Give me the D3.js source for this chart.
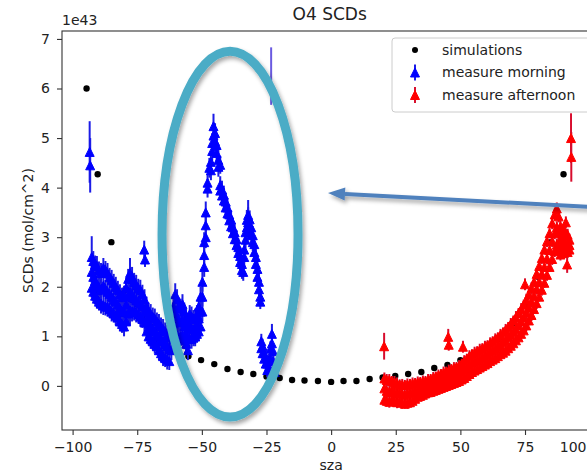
<!DOCTYPE html>
<html>
<head>
<meta charset="utf-8">
<script src="https://cdn.jsdelivr.net/npm/d3@7"></script>
<style>
body { margin: 0; background: #fff; }
svg { display: block; font-family: "DejaVu Sans", sans-serif; }
</style>
</head>
<body>
<div id="chart"></div>
<script>
// values are in units of 1e43 (mol/cm^2)

// simulations
var simSza = [-94.6, -90.3, -85, -80.2, -75, -70, -65, -59.8, -55.2, -50.3, -45.2, -40.1, -35, -30.1, -25, -19.9,
    -15.1, -10.3, -5.1, 0, 4.8, 9.8, 14.9, 19.9, 24.8, 29.8, 34.9, 39.9, 45, 50, 55, 60, 65, 70, 75, 80, 85, 89.9];
var simVal = [6.0, 4.27, 2.9, 1.92, 1.6, 1.2, 0.95, 0.79, 0.6, 0.52, 0.44, 0.34, 0.28, 0.24, 0.19, 0.16,
    0.12, 0.11, 0.1, 0.08, 0.1, 0.1, 0.14, 0.17, 0.2, 0.24, 0.28, 0.36, 0.42, 0.52, 0.62, 0.76, 0.95, 1.25, 1.62, 2.2, 2.9, 4.27];

// morning measurements, rows of [sza, error, values...]
var morningRows = [
    [-93.4, 0.62, 4.72], [-93.2, 0.55, 4.45],
    [-92.6, 0.42, 2.6], [-92.6, 0.2, 2.3, 1.98], [-92.0, 0.2, 2.52, 2.2, 1.9], [-91.3, 0.18, 2.45, 2.12, 1.82],
    [-90.6, 0.2, 2.42, 2.05, 1.76], [-89.8, 0.18, 2.33, 2.0, 1.7], [-89.0, 0.2, 2.28, 1.94, 1.66],
    [-88.1, 0.2, 2.38, 2.02, 1.63], [-87.3, 0.18, 2.34, 1.96, 1.6], [-86.5, 0.2, 2.28, 1.9, 1.6],
    [-85.7, 0.18, 2.2, 1.86, 1.55], [-84.9, 0.2, 2.14, 1.8, 1.5], [-84.1, 0.18, 2.08, 1.74, 1.46],
    [-83.3, 0.2, 2.0, 1.7, 1.42], [-82.5, 0.18, 1.94, 1.64, 1.38], [-81.7, 0.2, 1.85, 1.56, 1.3],
    [-80.9, 0.18, 1.8, 1.5, 1.25], [-80.1, 0.2, 1.82, 1.5, 1.2], [-79.3, 0.2, 1.98, 1.64, 1.3],
    [-78.5, 0.2, 2.16, 1.8, 1.46], [-77.8, 0.3, 2.28, 1.9, 1.52], [-77.0, 0.2, 2.2, 1.84, 1.5],
    [-76.2, 0.18, 2.1, 1.78, 1.5], [-75.4, 0.2, 2.04, 1.74, 1.48], [-74.6, 0.18, 1.98, 1.7, 1.45],
    [-73.8, 0.2, 1.94, 1.66, 1.4], [-73.0, 0.18, 1.86, 1.6, 1.35], [-72.3, 0.18, 2.75], [-72.0, 0.15, 2.55],
    [-72.2, 0.2, 1.75, 1.5, 1.28], [-71.4, 0.2, 1.6, 1.35, 1.1], [-70.6, 0.18, 1.5, 1.26, 1.0],
    [-69.8, 0.2, 1.45, 1.2, 0.95], [-69.0, 0.18, 1.4, 1.14, 0.9], [-68.2, 0.2, 1.36, 1.1, 0.85],
    [-67.4, 0.18, 1.3, 1.04, 0.8], [-66.6, 0.2, 1.25, 1.0, 0.72], [-65.8, 0.18, 1.2, 0.94, 0.66],
    [-65.0, 0.2, 1.15, 0.9, 0.6], [-64.2, 0.18, 1.1, 0.84, 0.56], [-63.4, 0.2, 1.02, 0.8, 0.53],
    [-62.6, 0.18, 0.98, 0.75, 0.5], [-61.8, 0.2, 1.3, 1.0, 0.72], [-61.0, 0.2, 1.6, 1.26, 0.95],
    [-60.3, 0.22, 1.85, 1.45, 1.05], [-59.6, 0.2, 1.75, 1.4, 1.02], [-58.9, 0.18, 1.6, 1.3, 0.98],
    [-58.2, 0.2, 1.56, 1.28, 1.0], [-57.5, 0.2, 1.65, 1.34, 1.02], [-56.8, 0.18, 1.5, 1.2, 0.92],
    [-56.1, 0.2, 1.36, 1.06, 0.85], [-55.4, 0.2, 1.26, 0.96, 0.72], [-54.7, 0.18, 1.45, 1.2, 0.95],
    [-54.0, 0.2, 1.4, 1.16, 0.95], [-53.3, 0.18, 1.35, 1.14, 0.98], [-52.6, 0.2, 1.36, 1.16, 1.0],
    [-51.9, 0.18, 1.45, 1.24, 1.05], [-51.2, 0.2, 1.6, 1.36, 1.1], [-50.5, 0.2, 1.8, 1.5, 1.2],
    [-49.8, 0.2, 2.1, 1.8, 1.5], [-49.1, 0.2, 2.9, 2.64, 2.4], [-48.5, 0.22, 3.5, 3.24, 3.0],
    [-47.8, 0.18, 4.1, 3.98], [-47.1, 0.2, 4.4], [-46.5, 0.2, 4.52, 4.35], [-46.0, 0.2, 4.9, 4.74],
    [-45.5, 0.25, 5.24, 5.05], [-44.9, 0.2, 5.1, 4.94], [-44.3, 0.18, 4.86, 4.7], [-43.6, 0.2, 4.56, 4.42],
    [-42.9, 0.18, 4.46], [-42.9, 0.18, 4.05, 3.94], [-42.2, 0.18, 3.96, 3.84], [-41.5, 0.18, 3.86, 3.74],
    [-40.8, 0.18, 3.72, 3.6], [-40.1, 0.18, 3.6, 3.48], [-39.4, 0.18, 3.46, 3.34], [-38.7, 0.18, 3.36, 3.22],
    [-38.0, 0.18, 3.2, 3.08], [-37.3, 0.18, 3.1, 2.96], [-36.6, 0.18, 2.96, 2.84], [-35.9, 0.18, 2.8, 2.68],
    [-35.2, 0.18, 2.62, 2.5], [-34.5, 0.18, 2.46, 2.34], [-34.0, 0.18, 2.3],
    [-33.6, 0.18, 2.75, 2.6], [-33.1, 0.18, 3.1, 2.95], [-32.6, 0.2, 3.35, 3.2], [-32.1, 0.3, 3.45, 3.3],
    [-31.5, 0.18, 3.36, 3.2], [-30.9, 0.18, 3.2, 3.05], [-30.3, 0.18, 3.04, 2.9], [-29.7, 0.18, 2.86, 2.7],
    [-29.1, 0.18, 2.6, 2.46], [-28.5, 0.18, 2.36, 2.2], [-27.9, 0.18, 2.1, 1.95], [-27.4, 0.15, 1.8, 1.7],
    [-27.0, 0.15, 0.9, 0.76], [-26.5, 0.15, 0.8, 0.66], [-25.9, 0.15, 0.66, 0.55], [-25.3, 0.15, 0.56, 0.45],
    [-24.7, 0.15, 0.45, 0.32], [-24.1, 0.15, 0.5, 0.36], [-23.5, 0.15, 0.75, 0.55], [-22.9, 0.2, 1.05, 0.86],
    [-22.4, 0.15, 0.7, 0.5], [-21.8, 0.12, 0.4, 0.28]
];
// morning error bar whose marker is not shown
var morningBarOnly = [[-23.2, 0.58, 6.25]];

// afternoon measurements, rows of [sza, error, values...]
var afternoonRows = [
    [20.5, 0.27, 0.8], [20.6, 0.12, 0.15, -0.05, -0.28], [21.5, 0.12, 0.12, -0.1, -0.3], [22.5, 0.12, 0.12, -0.12, -0.32],
    [23.5, 0.1, 0.1, -0.08, -0.28], [24.5, 0.12, 0.08, -0.12, -0.3], [25.5, 0.12, 0.05, -0.15, -0.33],
    [26.5, 0.1, 0.03, -0.14, -0.32], [27.5, 0.12, 0.02, -0.16, -0.34], [28.5, 0.1, 0.02, -0.18, -0.36],
    [29.5, 0.12, 0.03, -0.15, -0.34], [30.5, 0.1, 0.04, -0.14, -0.33], [31.5, 0.12, 0.05, -0.12, -0.3],
    [32.5, 0.1, 0.06, -0.1, -0.26], [33.5, 0.12, 0.07, -0.08, -0.22], [34.5, 0.1, 0.08, -0.06, -0.2],
    [35.5, 0.12, 0.09, -0.05, -0.18], [36.5, 0.1, 0.1, -0.03, -0.15], [37.5, 0.12, 0.12, -0.01, -0.13],
    [38.5, 0.1, 0.14, 0.01, -0.12], [39.5, 0.12, 0.16, 0.03, -0.1], [40.5, 0.1, 0.19, 0.05, -0.08],
    [41.5, 0.12, 0.21, 0.08, -0.06], [42.5, 0.1, 0.24, 0.1, -0.04], [43.5, 0.12, 0.27, 0.12, -0.02],
    [44.5, 0.1, 0.29, 0.15, 0.0], [45.3, 0.16, 0.99], [45.5, 0.12, 0.83], [45.5, 0.12, 0.31, 0.17, 0.02],
    [46.5, 0.1, 0.34, 0.19, 0.04], [47.5, 0.12, 0.36, 0.21, 0.06], [48.5, 0.1, 0.38, 0.23, 0.08],
    [49.5, 0.12, 0.4, 0.26, 0.1], [50.5, 0.1, 0.45, 0.29, 0.13], [51.0, 0.12, 0.79], [51.5, 0.12, 0.5, 0.33, 0.16],
    [52.5, 0.1, 0.55, 0.37, 0.2], [53.5, 0.12, 0.6, 0.42, 0.24], [54.5, 0.1, 0.64, 0.46, 0.28],
    [55.5, 0.12, 0.67, 0.49, 0.31], [56.5, 0.1, 0.7, 0.52, 0.34], [57.5, 0.12, 0.73, 0.55, 0.37],
    [58.5, 0.1, 0.76, 0.58, 0.4], [59.5, 0.12, 0.79, 0.61, 0.43], [60.5, 0.1, 0.82, 0.64, 0.46],
    [61.5, 0.12, 0.86, 0.68, 0.5], [62.5, 0.1, 0.9, 0.72, 0.53], [63.5, 0.12, 0.94, 0.75, 0.56],
    [64.5, 0.1, 0.98, 0.79, 0.6], [65.5, 0.12, 1.03, 0.83, 0.64], [66.5, 0.1, 1.08, 0.88, 0.67],
    [67.5, 0.12, 1.13, 0.92, 0.71], [68.5, 0.1, 1.19, 0.98, 0.76], [69.5, 0.12, 1.25, 1.03, 0.81],
    [70.5, 0.1, 1.32, 1.09, 0.86], [71.5, 0.12, 1.39, 1.15, 0.92], [72.5, 0.1, 1.47, 1.22, 0.98],
    [73.5, 0.12, 1.55, 1.3, 1.05], [74.5, 0.1, 1.64, 1.38, 1.12], [75.0, 0.12, 2.05],
    [75.5, 0.12, 1.74, 1.48, 1.22], [76.5, 0.1, 1.85, 1.58, 1.32], [77.5, 0.12, 1.97, 1.7, 1.43],
    [78.5, 0.1, 2.1, 1.82, 1.55], [79.5, 0.12, 2.26, 1.96, 1.67], [80.5, 0.1, 2.42, 2.1, 1.8],
    [81.5, 0.12, 2.58, 2.26, 1.94], [82.5, 0.1, 2.75, 2.4, 2.08], [83.5, 0.12, 2.92, 2.57, 2.24],
    [84.5, 0.1, 3.08, 2.74, 2.4], [85.5, 0.12, 3.28, 2.92, 2.56], [86.5, 0.12, 3.46, 3.08, 2.72],
    [87.3, 0.12, 3.58, 3.2, 2.85], [88.0, 0.12, 3.42, 3.1, 2.75], [88.7, 0.12, 3.22, 2.95, 2.65],
    [89.4, 0.12, 3.05, 2.86, 2.68], [90.1, 0.12, 3.15, 2.95, 2.78], [90.8, 0.12, 3.3, 3.05, 2.82],
    [91.3, 0.17, 2.45], [91.5, 0.12, 3.05, 2.88, 2.7], [92.2, 0.12, 2.95, 2.84, 2.75],
    [92.8, 0.5, 5.0], [92.9, 0.5, 4.62]
];

var xTicks = [-100, -75, -50, -25, 0, 25, 50, 75, 100];
var yTicks = [0, 1, 2, 3, 4, 5, 6, 7];
var legendLabels = ["simulations", "measure morning", "measure afternoon"];

// annotation added on top of the plot (data coordinates)
var ellipseNote = {sza: -39.1, val: 3.06, rSza: 26.3, rVal: 3.69};
var arrowNote = {fromSza: 104, fromVal: 3.6, toSza: -1.2, toVal: 3.89};

function flatten(rows) {
    var out = [];
    rows.forEach(function (r) {
        r.slice(2).forEach(function (v) {
            out.push({sza: r[0], err: r[1], val: v});
        });
    });
    return out;
}
var morning = flatten(morningRows);
var afternoon = flatten(afternoonRows);
var sims = simSza.map(function (s, i) { return {sza: s, val: simVal[i]}; });

var width = 587, height = 473;
var plot = {left: 62, top: 31, right: 597.4, bottom: 430};

var x = d3.scaleLinear().domain([-104.1, 103]).range([plot.left, plot.right]);
var y = d3.scaleLinear().domain([-0.89, 7.16]).range([plot.bottom, plot.top]);

var svg = d3.select("#chart").append("svg")
    .attr("width", width)
    .attr("height", height);

var defs = svg.append("defs");
defs.append("clipPath").attr("id", "plotclip")
    .append("rect")
    .attr("x", plot.left).attr("y", plot.top)
    .attr("width", plot.right - plot.left).attr("height", plot.bottom - plot.top);
var shadow = defs.append("filter").attr("id", "shadow")
    .attr("x", "-20%").attr("y", "-20%").attr("width", "140%").attr("height", "140%");
shadow.append("feDropShadow")
    .attr("dx", 2).attr("dy", 3).attr("stdDeviation", 2)
    .attr("flood-color", "#000").attr("flood-opacity", 0.35);
// the source picture is soft, blur the marks a little
defs.append("filter").attr("id", "soft")
    .append("feGaussianBlur").attr("stdDeviation", 0.6);

var tri = "M0,-4.5L4.5,4.5L-4.5,4.5Z";

var marks = svg.append("g").attr("clip-path", "url(#plotclip)")
    .append("g").attr("filter", "url(#soft)");

// simulations
marks.selectAll(".sim")
    .data(sims)
    .enter().append("circle")
    .attr("class", "sim")
    .attr("cx", function (d) { return x(d.sza); })
    .attr("cy", function (d) { return y(d.val); })
    .attr("r", 3.2)
    .attr("fill", "#000");

function drawSeries(data, color, ecolor) {
    var g = marks.append("g");
    g.selectAll("line")
        .data(data)
        .enter().append("line")
        .attr("x1", function (d) { return x(d.sza); })
        .attr("x2", function (d) { return x(d.sza); })
        .attr("y1", function (d) { return y(d.val - d.err); })
        .attr("y2", function (d) { return y(d.val + d.err); })
        .attr("stroke", ecolor)
        .attr("stroke-width", 2);
    g.selectAll("path")
        .data(data)
        .enter().append("path")
        .attr("d", tri)
        .attr("transform", function (d) { return "translate(" + x(d.sza) + "," + y(d.val) + ")"; })
        .attr("fill", color)
        .attr("stroke", color)
        .attr("stroke-width", 1);
}

drawSeries(morning, "#0000ff", "#1a1ae6");
marks.selectAll(".baronly")
    .data(morningBarOnly)
    .enter().append("line")
    .attr("class", "baronly")
    .attr("x1", function (d) { return x(d[0]); })
    .attr("x2", function (d) { return x(d[0]); })
    .attr("y1", function (d) { return y(d[2] - d[1]); })
    .attr("y2", function (d) { return y(d[2] + d[1]); })
    .attr("stroke", "#6a5ae0")
    .attr("stroke-width", 2);
drawSeries(afternoon, "#ff0000", "#d8102e");

// axes
var axisColor = "#333";
var xAxis = svg.append("g")
    .attr("transform", "translate(0," + plot.bottom + ")")
    .call(d3.axisBottom(x).tickValues(xTicks).tickSize(5).tickPadding(7));
var yAxis = svg.append("g")
    .attr("transform", "translate(" + plot.left + ",0)")
    .call(d3.axisLeft(y).tickValues(yTicks).tickSize(5).tickPadding(7).tickFormat(d3.format("d")));
[xAxis, yAxis].forEach(function (a) {
    a.select(".domain").remove();
    a.selectAll("line").attr("stroke", axisColor).attr("stroke-width", 1.1);
    a.selectAll("text").attr("fill", "#222").style("font-size", "14px").style("font-family", "DejaVu Sans, sans-serif");
});
// the last x label would run off the right edge: keep it inside the picture
xAxis.selectAll(".tick").filter(function (d) { return d === 100; })
    .select("text").attr("text-anchor", "end").attr("x", width - 1 - x(100));

svg.append("rect")
    .attr("x", plot.left).attr("y", plot.top)
    .attr("width", plot.right - plot.left).attr("height", plot.bottom - plot.top)
    .attr("fill", "none")
    .attr("stroke", axisColor)
    .attr("stroke-width", 1.1);

// labels
svg.append("text")
    .attr("x", (plot.left + plot.right) / 2).attr("y", 20)
    .attr("text-anchor", "middle")
    .style("font-size", "17px").attr("fill", "#222")
    .text("O4 SCDs");
svg.append("text")
    .attr("x", plot.left).attr("y", 25)
    .style("font-size", "14px").attr("fill", "#222")
    .text("1e43");
svg.append("text")
    .attr("transform", "translate(33," + (plot.top + plot.bottom) / 2 + ") rotate(-90)")
    .attr("text-anchor", "middle")
    .style("font-size", "14px").attr("fill", "#222")
    .text("SCDs (mol/cm^2)");
svg.append("text")
    .attr("x", x(0)).attr("y", 469.5)
    .attr("text-anchor", "middle")
    .style("font-size", "14px").attr("fill", "#222")
    .text("sza");

// legend
var legend = svg.append("g").attr("transform", "translate(392,38)");
legend.append("rect")
    .attr("width", 220).attr("height", 74).attr("rx", 3)
    .attr("fill", "#fff").attr("fill-opacity", 0.8)
    .attr("stroke", "#ccc");
var rows = legend.selectAll(".entry")
    .data(legendLabels)
    .enter().append("g")
    .attr("class", "entry")
    .attr("transform", function (d, i) { return "translate(0," + (12 + i * 22.5) + ")"; });
rows.append("text")
    .attr("x", 50).attr("dy", "0.35em")
    .style("font-size", "14px").attr("fill", "#222")
    .text(function (d) { return d; });
rows.each(function (d, i) {
    var r = d3.select(this);
    if (i === 0) {
        r.append("circle").attr("cx", 23).attr("r", 3).attr("fill", "#000");
    } else {
        var c = i === 1 ? "#0000ff" : "#ff0000";
        var ec = i === 1 ? "#1a1ae6" : "#d8102e";
        r.append("line").attr("x1", 23).attr("x2", 23).attr("y1", -8).attr("y2", 8)
            .attr("stroke", ec).attr("stroke-width", 2);
        r.append("path").attr("d", tri).attr("transform", "translate(23,0)")
            .attr("fill", c).attr("stroke", c);
    }
});

// annotation: ellipse and arrow
var note = svg.append("g").attr("filter", "url(#shadow)");
note.append("ellipse")
    .attr("cx", x(ellipseNote.sza))
    .attr("cy", y(ellipseNote.val))
    .attr("rx", x(ellipseNote.sza + ellipseNote.rSza) - x(ellipseNote.sza))
    .attr("ry", y(ellipseNote.val - ellipseNote.rVal) - y(ellipseNote.val))
    .attr("fill", "none")
    .attr("stroke", "#4bacc6")
    .attr("stroke-width", 9);

var ax0 = x(arrowNote.fromSza), ay0 = y(arrowNote.fromVal);
var ax1 = x(arrowNote.toSza), ay1 = y(arrowNote.toVal);
var ang = Math.atan2(ay1 - ay0, ax1 - ax0);
var headLen = 17, headHalf = 6.5;
var bx = ax1 - headLen * Math.cos(ang), by = ay1 - headLen * Math.sin(ang);
note.append("line")
    .attr("x1", ax0).attr("y1", ay0).attr("x2", bx).attr("y2", by)
    .attr("stroke", "#4f81bd").attr("stroke-width", 4);
note.append("path")
    .attr("d", "M" + ax1 + "," + ay1 +
        "L" + (bx + headHalf * Math.sin(ang)) + "," + (by - headHalf * Math.cos(ang)) +
        "L" + (bx - headHalf * Math.sin(ang)) + "," + (by + headHalf * Math.cos(ang)) + "Z")
    .attr("fill", "#4f81bd");
</script>
</body>
</html>
